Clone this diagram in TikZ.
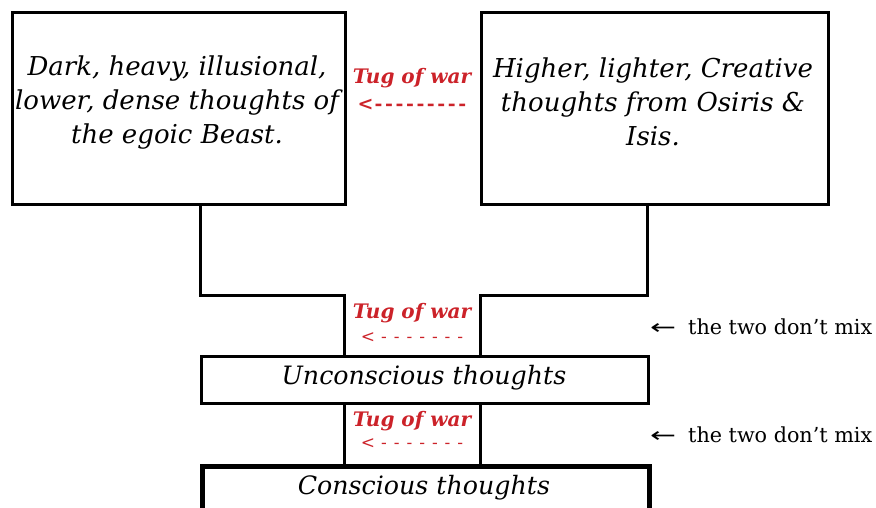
\documentclass[tikz,border=0pt]{standalone}
\usepackage{fontspec}
\setmainfont{DejaVu Serif}
\newfontfamily\symf{DejaVu Sans}
\definecolor{warred}{RGB}{204,34,41}
\newcommand{\bd}{\kern2.6pt-}
\newcommand{\td}{\kern7pt-}
\begin{document}
\begin{tikzpicture}[x=1pt,y=-1pt,line join=miter,
  box/.style={draw,line width=3pt,inner sep=0pt,anchor=north west},
  conn/.style={draw,line width=3pt},
  bigtxt/.style={font=\fontsize{26}{34}\selectfont\itshape,align=center,inner sep=0pt},
  midtxt/.style={font=\fontsize{25.3}{28}\selectfont\itshape,inner sep=0pt},
  tug/.style={font=\fontsize{20}{22}\selectfont\bfseries\itshape,text=warred,inner sep=0pt},
  tugarrow/.style={font=\fontsize{19}{20}\selectfont\bfseries,text=warred,inner sep=0pt},
  tugarrowthin/.style={font=\fontsize{17}{18}\selectfont,text=warred,inner sep=0pt},
  note/.style={font=\fontsize{20.7}{24}\selectfont,anchor=west,inner sep=0pt}
]
\useasboundingbox (0,0) rectangle (876,508);
% boxes
\node[box,minimum width=333pt,minimum height=192pt] (lb) at (11,11) {};
\node[box,minimum width=347pt,minimum height=192pt] (rb) at (480,11) {};
\node[box,minimum width=447pt,minimum height=47pt] (uc) at (200,355) {};
\node[box,line width=5pt,minimum width=447pt,minimum height=80pt] (cb) at (200,464) {};
% texts
\node[bigtxt] (lt) at (177,103) {Dark, heavy, illusional,\\lower, dense thoughts of\\the egoic Beast.};
\node[bigtxt] (rt) at (653,102) {Higher, lighter, Creative\\thoughts from Osiris \&\\Isis.};
\node[midtxt] (ut) at (424,378) {Unconscious thoughts};
\node[midtxt] (ct) at (424,488) {Conscious thoughts};
% junctions
\coordinate (jl) at (200,295);
\coordinate (jr) at (647,295);
\coordinate (ml) at (344,295);
\coordinate (mr) at (480,295);
\draw[conn] (lb.south -| jl) -- (jl) -- (ml) -- (uc.north -| ml);
\draw[conn] (rb.south -| jr) -- (jr) -- (mr) -- (uc.north -| mr);
\draw[conn] (uc.south -| ml) -- (cb.north -| ml);
\draw[conn] (uc.south -| mr) -- (cb.north -| mr);
% tug of war labels
\node[tug] (t1) at (412,78) {Tug of war};
\node[tugarrow] (a1) at (412,105) {<\kern1pt-\bd\bd\bd\bd\bd\bd\bd\bd};
\node[tug] (t2) at (412,313) {Tug of war};
\node[tugarrowthin] (a2) at (412,338) {<\kern6pt-\td\td\td\td\td\td};
\node[tug] (t3) at (412,421) {Tug of war};
\node[tugarrowthin] (a3) at (412,444) {<\kern6pt-\td\td\td\td\td\td};
% notes
\node[note] (n1) at (650,327) {{\symf\scalebox{1.5}[1]{←}}\hspace{12pt}the two don’t mix};
\node[note] (n2) at (650,435) {{\symf\scalebox{1.5}[1]{←}}\hspace{12pt}the two don’t mix};
\end{tikzpicture}
\end{document}
